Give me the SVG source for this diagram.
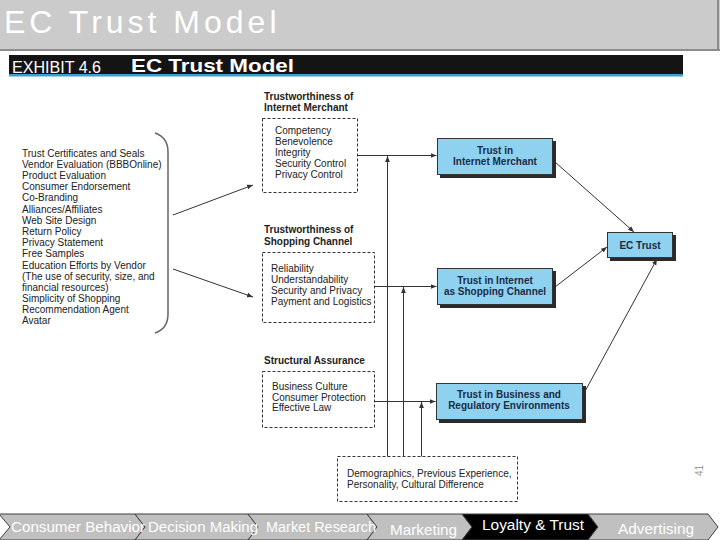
<svg xmlns="http://www.w3.org/2000/svg" width="720" height="540" viewBox="0 0 720 540">
<defs>
<style>
.t{font-family:"Liberation Sans",Arial,sans-serif;}
.lst{font-size:10px;fill:#222;}
.hd{font-size:10px;font-weight:bold;fill:#222;}
.dash{fill:none;stroke:#333;stroke-width:1;stroke-dasharray:3,2;}
.blue{fill:#8fd2f0;stroke:#333;stroke-width:1;}
.shadow{fill:#2a2a2a;}
.bt{font-size:10px;font-weight:bold;fill:#1c2b45;text-anchor:middle;}
.ln{fill:none;stroke:#333;stroke-width:1;}
.nav{fill:#c0c0c0;stroke:#404040;stroke-width:1;}
.navt{font-size:14px;fill:#fff;}
</style>
<marker id="ah" viewBox="0 0 10 10" refX="10" refY="5" markerWidth="6" markerHeight="6" orient="auto" markerUnits="userSpaceOnUse">
<path d="M0,1 L10,5 L0,9 z" fill="#333"/>
</marker>
</defs>
<rect width="720" height="540" fill="#fff"/>
<g id="header">
<rect x="0" y="0" width="720" height="50" fill="#cbcbcb"/>
<line x1="0" y1="50" x2="720" y2="50" stroke="#8c8c8c" stroke-width="2"/>
<line x1="718" y1="0" x2="718" y2="50" stroke="#8c8c8c" stroke-width="2"/>
<text class="t" x="4" y="33" font-size="32" letter-spacing="4" fill="#fff">EC Trust Model</text>
</g>
<g id="exhibit-bar">
<rect x="9" y="55" width="674" height="20" fill="#141414"/>
<rect x="9" y="74" width="674" height="2.5" fill="#3aa0d0"/>
<text class="t" x="12" y="73" font-size="16" fill="#fff" textLength="89" lengthAdjust="spacingAndGlyphs">EXHIBIT 4.6</text>
<text class="t" x="131" y="72" font-size="19" font-weight="bold" fill="#fff" textLength="163" lengthAdjust="spacingAndGlyphs">EC Trust Model</text>
</g>
<g id="factors">
<text class="t lst" x="22" y="156.5">Trust Certificates and Seals<tspan x="22" dy="11.2">Vendor Evaluation (BBBOnline)</tspan><tspan x="22" dy="11.2">Product Evaluation</tspan><tspan x="22" dy="11.2">Consumer Endorsement</tspan><tspan x="22" dy="11.2">Co-Branding</tspan><tspan x="22" dy="11.2">Alliances/Affiliates</tspan><tspan x="22" dy="11.2">Web Site Design</tspan><tspan x="22" dy="11.2">Return Policy</tspan><tspan x="22" dy="11.2">Privacy Statement</tspan><tspan x="22" dy="11.2">Free Samples</tspan><tspan x="22" dy="11.2">Education Efforts by Vendor</tspan><tspan x="22" dy="11.2">(The use of security, size, and</tspan><tspan x="22" dy="11.2">financial resources)</tspan><tspan x="22" dy="11.2">Simplicity of Shopping</tspan><tspan x="22" dy="11.2">Recommendation Agent</tspan><tspan x="22" dy="11.2">Avatar</tspan></text>
<path d="M155,133 C164,136 168,143 168,152 L168,314 C168,323 164,330 155,333" fill="none" stroke="#666" stroke-width="1.5"/>
</g>
<g id="tw-merchant">
<text class="t hd" x="264" y="100">Trustworthiness of<tspan x="264" dy="11">Internet Merchant</tspan></text>
<rect class="dash" x="262.5" y="118.5" width="95" height="74"/>
<text class="t lst" x="275" y="133.5">Competency<tspan x="275" dy="11.2">Benevolence</tspan><tspan x="275" dy="11.2">Integrity</tspan><tspan x="275" dy="11.2">Security Control</tspan><tspan x="275" dy="11.2">Privacy Control</tspan></text>
</g>
<g id="tw-channel">
<text class="t hd" x="264" y="232.5">Trustworthiness of<tspan x="264" dy="12">Shopping Channel</tspan></text>
<rect class="dash" x="262.5" y="252.5" width="112" height="70"/>
<text class="t lst" x="271" y="271.8">Reliability<tspan x="271" dy="11">Understandability</tspan><tspan x="271" dy="11">Security and Privacy</tspan><tspan x="271" dy="11">Payment and Logistics</tspan></text>
</g>
<g id="structural">
<text class="t hd" x="264" y="363.5">Structural Assurance</text>
<rect class="dash" x="262.5" y="371.5" width="112" height="56"/>
<text class="t lst" x="272" y="390">Business Culture<tspan x="272" dy="10.5">Consumer Protection</tspan><tspan x="272" dy="10.5">Effective Law</tspan></text>
</g>
<g id="demographics">
<rect class="dash" x="337.5" y="456.5" width="180" height="45"/>
<text class="t lst" x="347" y="476.5">Demographics, Previous Experience,<tspan x="347" dy="11">Personality, Cultural Difference</tspan></text>
</g>
<g id="trust-merchant">
<rect class="shadow" x="440" y="141" width="116" height="37"/>
<rect class="blue" x="437.5" y="138.5" width="115" height="36"/>
<text class="t bt" x="495" y="153.5">Trust in<tspan x="495" dy="11">Internet Merchant</tspan></text>
</g>
<g id="trust-channel">
<rect class="shadow" x="440" y="271" width="116" height="37"/>
<rect class="blue" x="437.5" y="268.5" width="115" height="36"/>
<text class="t bt" x="495" y="284">Trust in Internet<tspan x="495" dy="11">as Shopping Channel</tspan></text>
</g>
<g id="trust-business">
<rect class="shadow" x="439" y="386" width="147" height="37"/>
<rect class="blue" x="436.5" y="383.5" width="146" height="36"/>
<text class="t bt" x="509" y="397.5">Trust in Business and<tspan x="509" dy="11">Regulatory Environments</tspan></text>
</g>
<g id="ec-trust">
<rect class="shadow" x="610" y="235" width="66" height="26"/>
<rect class="blue" x="607.5" y="232.5" width="65" height="25"/>
<text class="t bt" x="640" y="249">EC Trust</text>
</g>
<g id="connectors">
<line class="ln" x1="173" y1="215" x2="253" y2="185" marker-end="url(#ah)"/>
<line class="ln" x1="173" y1="269" x2="253" y2="297" marker-end="url(#ah)"/>
<line class="ln" x1="357.5" y1="155.5" x2="436.5" y2="155.5" marker-end="url(#ah)"/>
<line class="ln" x1="374.5" y1="286.5" x2="436.5" y2="286.5" marker-end="url(#ah)"/>
<line class="ln" x1="374.5" y1="401.5" x2="435.5" y2="401.5" marker-end="url(#ah)"/>
<line class="ln" x1="387.5" y1="456.5" x2="387.5" y2="156" marker-end="url(#ah)"/>
<line class="ln" x1="403.5" y1="456.5" x2="403.5" y2="287" marker-end="url(#ah)"/>
<line class="ln" x1="421.5" y1="456.5" x2="421.5" y2="402" marker-end="url(#ah)"/>
<line class="ln" x1="555" y1="162" x2="634" y2="232" marker-end="url(#ah)"/>
<line class="ln" x1="555" y1="287" x2="607" y2="247" marker-end="url(#ah)"/>
<line class="ln" x1="583" y1="395" x2="657" y2="259" marker-end="url(#ah)"/>
</g>
<g id="page-number">
<text class="t" transform="translate(703,476) rotate(-90)" font-size="10" fill="#999">41</text>
</g>
<g id="nav">
<polygon class="nav" points="-1,514 135,514 145,527 135,540 -1,540 10,527"/>
<polygon class="nav" points="135,514 248,514 258,527 248,540 135,540 145,527"/>
<polygon class="nav" points="248,514 367,514 377,527 367,540 248,540 258,527"/>
<polygon class="nav" points="367,514 462,514 472,527 462,540 367,540 377,527"/>
<polygon points="462,514 588,514 598,527 588,540 462,540 472,527" fill="#000" stroke="#404040" stroke-width="1"/>
<polygon class="nav" points="588,514 708,514 718,527 708,540 588,540 598,527"/>
<text class="t navt" x="11" y="532" textLength="134" lengthAdjust="spacingAndGlyphs">Consumer Behavior</text>
<text class="t navt" x="148" y="532" textLength="110" lengthAdjust="spacingAndGlyphs">Decision Making</text>
<text class="t navt" x="266" y="532" textLength="110" lengthAdjust="spacingAndGlyphs">Market Research</text>
<text class="t navt" x="390" y="535" textLength="67" lengthAdjust="spacingAndGlyphs">Marketing</text>
<text class="t navt" x="482" y="530" textLength="102" lengthAdjust="spacingAndGlyphs">Loyalty &amp; Trust</text>
<text class="t navt" x="618" y="534" textLength="76" lengthAdjust="spacingAndGlyphs">Advertising</text>
</g>
</svg>
